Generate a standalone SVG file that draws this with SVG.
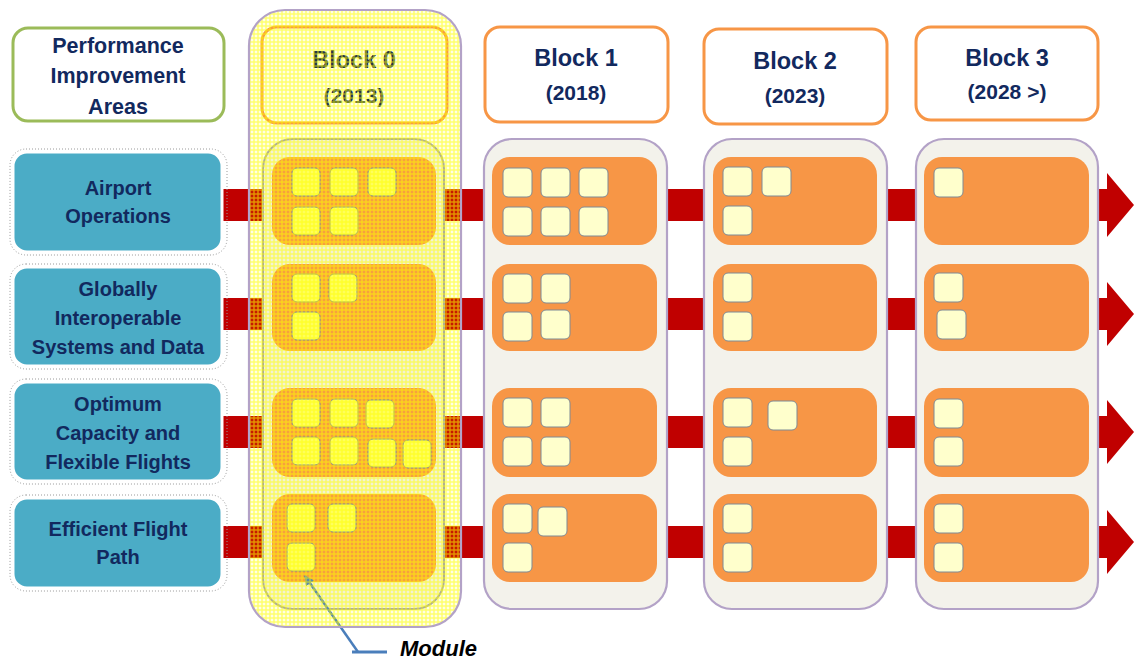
<svg xmlns="http://www.w3.org/2000/svg" width="1134" height="660" viewBox="0 0 1134 660">
<style>
.t{font-family:"Liberation Sans",Arial,sans-serif;font-weight:bold;fill:#12295E;text-anchor:middle}
.pia{font-size:21.5px}
.lt{font-size:20px}
.bh{font-size:23.5px}
.by{font-size:21px}
.hdr{fill:#ffffff;stroke:#F79646;stroke-width:3}
.cont{fill:#F3F2EB;stroke:#B3A2C7;stroke-width:2.2}
.pan{fill:#F79646}
.mod{fill:#FFFFCC;stroke:#7F8A95;stroke-width:1}
.mod0{fill:#FFFF66;stroke:#7F8A95;stroke-width:1}
.pia-box{fill:#ffffff;stroke:#9BBB59;stroke-width:3}
.aq{fill:#4BACC6;stroke:#ffffff;stroke-width:3}
.aqs{fill:none;stroke:#9a9a9a;stroke-width:1;stroke-dasharray:1 2}
.arr{fill:#C00000}
</style>
<defs>
<pattern id="yp" width="4" height="4" patternUnits="userSpaceOnUse">
<rect x="0" y="1.5" width="4" height="1" fill="#FFFF00" fill-opacity="0.75"/>
<rect x="1.5" y="0" width="1" height="1.5" fill="#FFFF00" fill-opacity="0.75"/>
<rect x="1.5" y="2.5" width="1" height="1.5" fill="#FFFF00" fill-opacity="0.75"/>
</pattern>
<clipPath id="b0clip"><rect x="249" y="10" width="212" height="617" rx="36"/></clipPath>
<marker id="ah" viewBox="0 0 10 10" refX="9" refY="5" markerWidth="4" markerHeight="4" orient="auto" markerUnits="strokeWidth">
<path d="M0,0 L10,5 L0,10 Z" fill="#4A7EBB"/>
</marker>
</defs>

<g id="connectors">
<polygon class="arr" points="222,189 1107,189 1107,173 1134,205 1107,237 1107,221 222,221"/>
<polygon class="arr" points="222,298 1107,298 1107,282 1134,314 1107,346 1107,330 222,330"/>
<polygon class="arr" points="222,416 1107,416 1107,400 1134,432 1107,464 1107,448 222,448"/>
<polygon class="arr" points="222,526 1107,526 1107,510 1134,542 1107,574 1107,558 222,558"/>
</g>

<g id="pia">
<rect class="pia-box" x="13" y="28" width="211" height="93" rx="15"/>
<text class="t pia" x="118" y="53">Performance</text>
<text class="t pia" x="118" y="83">Improvement</text>
<text class="t pia" x="118" y="114">Areas</text>
</g>

<g id="area-airport">
<rect class="aqs" x="10" y="149" width="217" height="106" rx="16"/>
<rect class="aq" x="13" y="152" width="209" height="100" rx="14"/>
<text class="t lt" x="118" y="195">Airport</text>
<text class="t lt" x="118" y="223">Operations</text>
</g>
<g id="area-globally">
<rect class="aqs" x="10" y="264" width="217" height="105" rx="16"/>
<rect class="aq" x="13" y="267" width="209" height="99" rx="14"/>
<text class="t lt" x="118" y="296">Globally</text>
<text class="t lt" x="118" y="325">Interoperable</text>
<text class="t lt" x="118" y="354">Systems and Data</text>
</g>
<g id="area-capacity">
<rect class="aqs" x="10" y="379" width="217" height="105" rx="16"/>
<rect class="aq" x="13" y="382" width="209" height="99" rx="14"/>
<text class="t lt" x="118" y="411">Optimum</text>
<text class="t lt" x="118" y="440">Capacity and</text>
<text class="t lt" x="118" y="469">Flexible Flights</text>
</g>
<g id="area-flightpath">
<rect class="aqs" x="10" y="495" width="217" height="96" rx="16"/>
<rect class="aq" x="13" y="498" width="209" height="90" rx="14"/>
<text class="t lt" x="118" y="536">Efficient Flight</text>
<text class="t lt" x="118" y="564">Path</text>
</g>

<g id="block1">
<rect class="hdr" x="485" y="27" width="183" height="95" rx="15"/>
<text class="t bh" x="576" y="66">Block 1</text>
<text class="t by" x="576" y="100">(2018)</text>
<rect class="cont" x="484" y="139" width="183" height="470" rx="28"/>
<rect class="pan" x="492" y="157" width="165" height="88" rx="18"/>
<rect class="pan" x="492" y="264" width="165" height="87" rx="18"/>
<rect class="pan" x="492" y="388" width="165" height="89" rx="18"/>
<rect class="pan" x="492" y="494" width="165" height="88" rx="18"/>
<rect class="mod" x="503" y="168" width="29" height="29" rx="5"/>
<rect class="mod" x="541" y="168" width="29" height="29" rx="5"/>
<rect class="mod" x="579" y="168" width="29" height="29" rx="5"/>
<rect class="mod" x="503" y="207" width="29" height="29" rx="5"/>
<rect class="mod" x="541" y="207" width="29" height="29" rx="5"/>
<rect class="mod" x="579" y="207" width="29" height="29" rx="5"/>
<rect class="mod" x="503" y="274" width="29" height="29" rx="5"/>
<rect class="mod" x="541" y="274" width="29" height="29" rx="5"/>
<rect class="mod" x="503" y="312" width="29" height="29" rx="5"/>
<rect class="mod" x="541" y="310" width="29" height="29" rx="5"/>
<rect class="mod" x="503" y="398" width="29" height="29" rx="5"/>
<rect class="mod" x="541" y="398" width="29" height="29" rx="5"/>
<rect class="mod" x="503" y="437" width="29" height="29" rx="5"/>
<rect class="mod" x="541" y="437" width="29" height="29" rx="5"/>
<rect class="mod" x="503" y="504" width="29" height="29" rx="5"/>
<rect class="mod" x="538" y="507" width="29" height="29" rx="5"/>
<rect class="mod" x="503" y="543" width="29" height="29" rx="5"/>
</g>

<g id="block2">
<rect class="hdr" x="704" y="29" width="183" height="95" rx="15"/>
<text class="t bh" x="795" y="69">Block 2</text>
<text class="t by" x="795" y="103">(2023)</text>
<rect class="cont" x="704" y="139" width="183" height="470" rx="28"/>
<rect class="pan" x="713" y="157" width="164" height="88" rx="18"/>
<rect class="pan" x="713" y="264" width="164" height="87" rx="18"/>
<rect class="pan" x="713" y="388" width="164" height="89" rx="18"/>
<rect class="pan" x="713" y="494" width="164" height="88" rx="18"/>
<rect class="mod" x="723" y="167" width="29" height="29" rx="5"/>
<rect class="mod" x="762" y="167" width="29" height="29" rx="5"/>
<rect class="mod" x="723" y="206" width="29" height="29" rx="5"/>
<rect class="mod" x="723" y="273" width="29" height="29" rx="5"/>
<rect class="mod" x="723" y="312" width="29" height="29" rx="5"/>
<rect class="mod" x="723" y="398" width="29" height="29" rx="5"/>
<rect class="mod" x="768" y="401" width="29" height="29" rx="5"/>
<rect class="mod" x="723" y="437" width="29" height="29" rx="5"/>
<rect class="mod" x="723" y="504" width="29" height="29" rx="5"/>
<rect class="mod" x="723" y="543" width="29" height="29" rx="5"/>
</g>

<g id="block3">
<rect class="hdr" x="916" y="27" width="182" height="93" rx="15"/>
<text class="t bh" x="1007" y="66">Block 3</text>
<text class="t by" x="1007" y="99">(2028 &gt;)</text>
<rect class="cont" x="916" y="139" width="182" height="470" rx="28"/>
<rect class="pan" x="924" y="157" width="165" height="88" rx="18"/>
<rect class="pan" x="924" y="264" width="165" height="87" rx="18"/>
<rect class="pan" x="924" y="388" width="165" height="89" rx="18"/>
<rect class="pan" x="924" y="494" width="165" height="88" rx="18"/>
<rect class="mod" x="934" y="168" width="29" height="29" rx="5"/>
<rect class="mod" x="934" y="273" width="29" height="29" rx="5"/>
<rect class="mod" x="937" y="310" width="29" height="29" rx="5"/>
<rect class="mod" x="934" y="399" width="29" height="29" rx="5"/>
<rect class="mod" x="934" y="437" width="29" height="29" rx="5"/>
<rect class="mod" x="934" y="504" width="29" height="29" rx="5"/>
<rect class="mod" x="934" y="543" width="29" height="29" rx="5"/>
</g>

<g id="block0">
<rect x="262" y="27" width="185" height="96" rx="15" fill="#ffffff" stroke="#F79646" stroke-width="3"/>
<text class="t bh" x="354" y="68" style="fill:#0E2350">Block 0</text>
<text class="t by" x="354" y="103" style="fill:#0E2350">(2013)</text>
<rect x="263" y="139" width="181" height="470" rx="30" fill="#F2F2EA" stroke="#A6A6A6" stroke-width="2"/>
<rect class="pan" x="272" y="157" width="164" height="88" rx="18"/>
<rect class="pan" x="272" y="264" width="164" height="87" rx="18"/>
<rect class="pan" x="272" y="388" width="164" height="89" rx="18"/>
<rect class="pan" x="272" y="494" width="164" height="88" rx="18"/>
<rect class="mod0" x="292" y="168" width="28" height="28" rx="5"/>
<rect class="mod0" x="330" y="168" width="28" height="28" rx="5"/>
<rect class="mod0" x="368" y="168" width="28" height="28" rx="5"/>
<rect class="mod0" x="292" y="207" width="28" height="28" rx="5"/>
<rect class="mod0" x="330" y="207" width="28" height="28" rx="5"/>
<rect class="mod0" x="292" y="274" width="28" height="28" rx="5"/>
<rect class="mod0" x="329" y="274" width="28" height="28" rx="5"/>
<rect class="mod0" x="292" y="312" width="28" height="28" rx="5"/>
<rect class="mod0" x="292" y="399" width="28" height="28" rx="5"/>
<rect class="mod0" x="330" y="399" width="28" height="28" rx="5"/>
<rect class="mod0" x="366" y="400" width="28" height="28" rx="5"/>
<rect class="mod0" x="292" y="437" width="28" height="28" rx="5"/>
<rect class="mod0" x="330" y="437" width="28" height="28" rx="5"/>
<rect class="mod0" x="368" y="439" width="28" height="28" rx="5"/>
<rect class="mod0" x="403" y="440" width="28" height="28" rx="5"/>
<rect class="mod0" x="287" y="504" width="28" height="28" rx="5"/>
<rect class="mod0" x="328" y="504" width="28" height="28" rx="5"/>
<rect class="mod0" x="287" y="543" width="28" height="28" rx="5"/>
</g>

<g id="module-label">
<polyline points="387,652 352,652" fill="none" stroke="#4A7EBB" stroke-width="3"/>
<line x1="358" y1="652" x2="305" y2="576" stroke="#4A7EBB" stroke-width="2.5" marker-end="url(#ah)"/>
<text x="400" y="656" font-family="'Liberation Sans',Arial,sans-serif" font-weight="bold" font-style="italic" font-size="22" fill="#000000">Module</text>
</g>

<g id="block0-overlay">
<g clip-path="url(#b0clip)">
<rect x="249" y="10" width="212" height="617" fill="#FFFF00" fill-opacity="0.1"/>
<rect x="249" y="10" width="212" height="617" fill="url(#yp)"/>
</g>
<rect x="249" y="10" width="212" height="617" rx="36" fill="none" stroke="#B3A2C7" stroke-width="2.2"/>
</g>
</svg>
